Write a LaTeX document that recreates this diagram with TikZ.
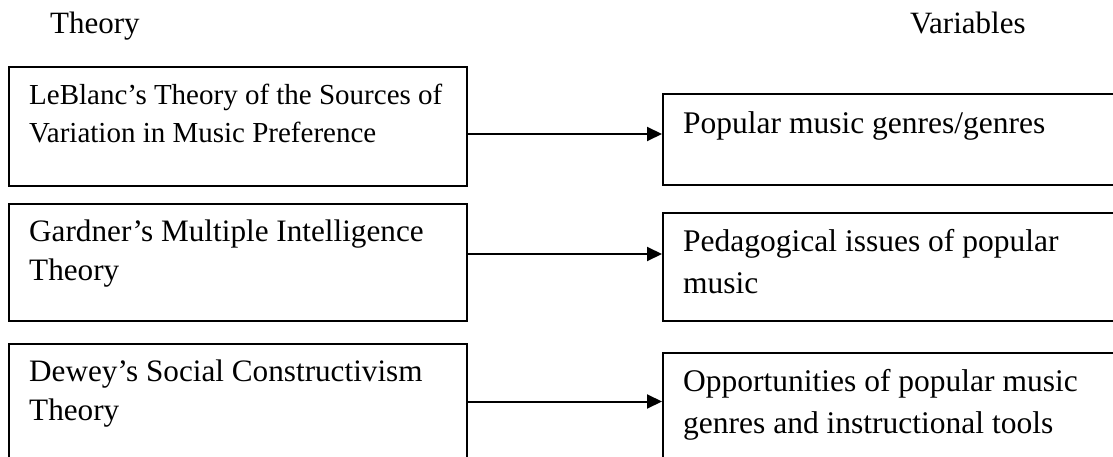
\documentclass[tikz,border=0pt]{standalone}
\usepackage{fontspec}
\setmainfont{Liberation Serif}
\usetikzlibrary{arrows.meta}
\begin{document}
\begin{tikzpicture}[x=1pt,y=-1pt,
  box/.style={draw=black,line width=1.6pt,rectangle,inner sep=0pt,anchor=north west},
  ltxt/.style={anchor=base west,inner sep=0pt,align=left,font=\fontsize{29}{38.5}\selectfont},
  mtxt/.style={anchor=base west,inner sep=0pt,align=left,font=\fontsize{31.2}{38.5}\selectfont},
  rtxt/.style={anchor=base west,inner sep=0pt,align=left,font=\fontsize{31.5}{41.5}\selectfont},
  ttl/.style={anchor=base west,inner sep=0pt,font=\fontsize{31}{36}\selectfont},
  arr/.style={line width=2pt,-{Triangle[length=15pt,width=14pt]}}]
\clip (0,0) rectangle (1113,457);
\fill[white] (0,0) rectangle (1113,457);
% titles
\node[ttl] (t1) at (50,34) {Theory};
\node[ttl] (t2) at (910,34) {Variables};
% left boxes
\node[box,minimum width=458pt,minimum height=119pt] (L1) at (8,66) {};
\node[box,minimum width=458pt,minimum height=117pt] (L2) at (8,203) {};
\node[box,minimum width=458pt,minimum height=140pt] (L3) at (8,343) {};
% right boxes
\node[box,minimum width=500pt,minimum height=91pt] (R1) at (662,93) {};
\node[box,minimum width=500pt,minimum height=108pt] (R2) at (662,212) {};
\node[box,minimum width=500pt,minimum height=140pt] (R3) at (662,352) {};
% texts (anchor at baseline of last line)
\node[ltxt] (l1t) at (29,142.6) {LeBlanc’s Theory of the Sources of\\Variation in Music Preference};
\node[mtxt] (l2t) at (29,280) {Gardner’s Multiple Intelligence\\Theory};
\node[mtxt] (l3t) at (29,420) {Dewey’s Social Constructivism\\Theory};
\node[rtxt] (r1t) at (683,133.3) {Popular music genres/genres};
\node[rtxt] (r2t) at (683,293.2) {Pedagogical issues of popular\\music};
\node[rtxt] (r3t) at (683,433.2) {Opportunities of popular music\\genres and instructional tools};
% arrows
\coordinate (a1) at (466,134);
\coordinate (a2) at (466,254);
\coordinate (a3) at (466,401.5);
\draw[arr] (a1) -- (a1 -| R1.west);
\draw[arr] (a2) -- (a2 -| R2.west);
\draw[arr] (a3) -- (a3 -| R3.west);
\end{tikzpicture}
\end{document}
